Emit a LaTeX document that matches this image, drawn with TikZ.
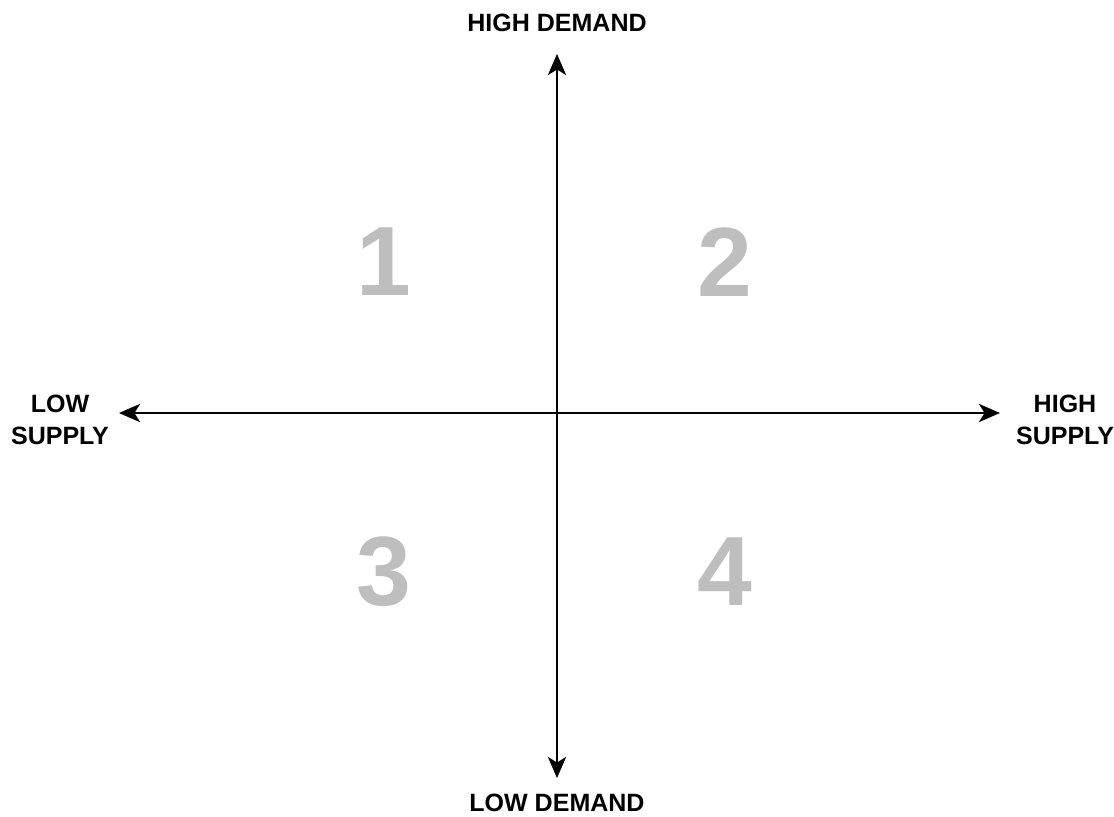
\documentclass[tikz,border=0pt]{standalone}
\usepackage{fontspec}
\setmainfont{Liberation Sans}
\usetikzlibrary{arrows.meta}
\definecolor{quadGray}{HTML}{BEBEBE}

\begin{document}
\begin{tikzpicture}[
  x=0.025cm,y=-0.025cm,
  >={Stealth[length=15pt,width=13pt,inset=4pt]},
  axis/.style={draw=black,line width=1.4pt},
  lbl/.style={font=\fontsize{17.8}{22.5}\selectfont\bfseries,align=center,inner sep=0pt},
  quad/.style={font=\fontsize{70}{72}\selectfont\bfseries,text=quadGray,inner sep=0pt},
]
\useasboundingbox (0,0) rectangle (1114,817);

% ---- axis ends ------------------------------------------------------------
\coordinate (c)  at (557,413);
\coordinate (up) at (557,54);
\coordinate (dn) at (557,778);
\coordinate (lf) at (119,413);
\coordinate (rt) at (1000,413);

% ---- axis labels ----------------------------------------------------------
\node[lbl] (hd) at (557,23)   {HIGH DEMAND};
\node[lbl] (ld) at (557,803)  {LOW DEMAND};
\node[lbl] (ls) at (60,420)   {LOW\\SUPPLY};
\node[lbl] (hs) at (1065,420) {HIGH\\SUPPLY};

% ---- quadrant numbers -----------------------------------------------------
\node[quad] (q1) at (384,262) {1};
\node[quad] (q2) at (725,262) {2};
\node[quad] (q3) at (384,572) {3};
\node[quad] (q4) at (725,572) {4};

% ---- axes -----------------------------------------------------------------
\draw[axis,<->] (dn) -- (up);
\draw[axis,<->] (lf) -- (rt);

\end{tikzpicture}
\end{document}
